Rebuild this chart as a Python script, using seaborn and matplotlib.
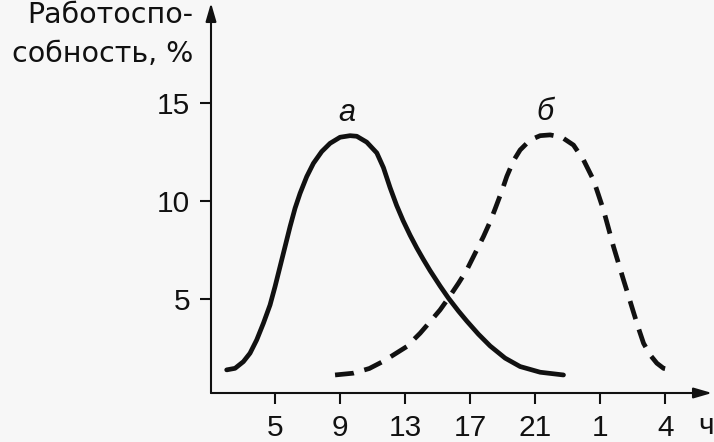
import pandas as pd
import matplotlib
matplotlib.use("Agg")
import matplotlib.pyplot as plt
import seaborn as sns

# x is the position along the time axis (0 = tick "5", 1 = tick "9", ...)
tick_labels = ["5", "9", "13", "17", "21", "1", "4"]
y_ticks = [5, 10, 15]

# curve "а" (solid)
a_x = [-0.744, -0.615, -0.487, -0.385, -0.282, -0.179, -0.077, 0.0, 0.077, 0.154,
       0.231, 0.308, 0.385, 0.487, 0.59, 0.718, 0.846, 1.0, 1.154, 1.257, 1.41,
       1.565, 1.667, 1.769, 1.87, 1.97, 2.077, 2.18, 2.28, 2.385, 2.538, 2.667,
       2.821, 2.949, 3.128, 3.308, 3.538, 3.769, 4.077, 4.436]
a_y = [1.38, 1.46, 1.80, 2.23, 2.91, 3.76, 4.69, 5.63, 6.65, 7.67,
       8.69, 9.63, 10.39, 11.24, 11.92, 12.52, 12.94, 13.25, 13.33, 13.3, 13.0,
       12.45, 11.7, 10.68, 9.77, 8.99, 8.25, 7.6, 7.02, 6.44, 5.66, 5.04,
       4.38, 3.87, 3.2, 2.6, 1.98, 1.55, 1.26, 1.12]

# curve "б" (dashed)
b_x = [0.923, 1.2, 1.45, 1.666, 1.82, 2.026, 2.231, 2.385, 2.538, 2.667, 2.821,
       2.949, 3.077, 3.205, 3.308, 3.385, 3.487, 3.564, 3.667, 3.769, 3.923,
       4.077, 4.231, 4.41, 4.59, 4.744, 4.897, 4.974, 5.051, 5.128, 5.205,
       5.282, 5.359, 5.436, 5.51, 5.59, 5.667, 5.769, 5.872, 5.974, 6.077]
b_y = [1.12, 1.21, 1.45, 1.82, 2.14, 2.57, 3.25, 3.84, 4.44, 5.04, 5.80,
       6.48, 7.33, 8.18, 8.94, 9.6, 10.5, 11.25, 12.05, 12.6, 13.11,
       13.33, 13.37, 13.25, 12.85, 12.09, 11.07, 10.31, 9.54, 8.61, 7.67,
       6.82, 5.97, 5.15, 4.35, 3.5, 2.74, 2.14, 1.72, 1.46, 1.38]

sns.set_style("white")
plt.rcParams["font.family"] = ["Liberation Sans", "DejaVu Sans"]
plt.rcParams["text.color"] = "#111111"
plt.rcParams["xtick.color"] = "#111111"
plt.rcParams["ytick.color"] = "#111111"

bg = "#f7f7f7"
fig = plt.figure(figsize=(7.14, 4.42), dpi=100, facecolor=bg)
W, H = 714, 442
left, right, top, bottom = 211, 712, 3, 393
ax = fig.add_axes([left / W, 1 - bottom / H, (right - left) / W, (bottom - top) / H])
ax.set_facecolor(bg)

df_a = pd.DataFrame({"x": a_x, "y": a_y})
df_b = pd.DataFrame({"x": b_x, "y": b_y})
sns.lineplot(data=df_a, x="x", y="y", ax=ax, color="#111111", lw=3.4, sort=False)
sns.lineplot(data=df_b, x="x", y="y", ax=ax, color="#111111", lw=3.4, sort=False)
ax.lines[0].set_solid_capstyle("round")
ax.lines[0].set_solid_joinstyle("round")
ax.lines[1].set_linestyle((0, (4.0, 2.3)))
ax.lines[1].set_dash_joinstyle("round")

ax.set_xlim(-0.985, 6.72)
ax.set_ylim(0.2, 20.1)

for s in ax.spines.values():
    s.set_visible(False)

# axes with arrows
for tip in [(1, 0), (0, 1)]:
    ax.annotate("", xy=tip, xytext=(0, 0), xycoords="axes fraction",
                arrowprops=dict(arrowstyle="-|>,head_length=1.1,head_width=0.32",
                                color="#111111", lw=1.5, shrinkA=0, shrinkB=0))

ax.set_xticks(range(len(tick_labels)))
ax.set_xticklabels(tick_labels)
ax.set_yticks(y_ticks)
ax.tick_params(axis="both", direction="out", length=8, width=1.5,
               labelsize=21.5, pad=7, bottom=True, left=True)
ax.set_xlabel("")
ax.set_ylabel("")

ax.text(1.11, 14.5, "а", fontsize=22, style="italic", ha="center", va="center")
ax.text(4.15, 14.55, "б", fontsize=22, style="italic", ha="center", va="center")

fig.text(706 / W, 1 - 434 / H, "ч", fontsize=21.5, ha="center", va="baseline")
fig.text(193 / W, 1 - 23 / H, "Работоспо-", fontsize=20.5,
         family=["DejaVu Sans"], ha="right", va="baseline")
fig.text(193 / W, 1 - 62 / H, "собность, %", fontsize=20.5,
         family=["DejaVu Sans"], ha="right", va="baseline")

fig.savefig("out.png", dpi=100, facecolor=bg)
